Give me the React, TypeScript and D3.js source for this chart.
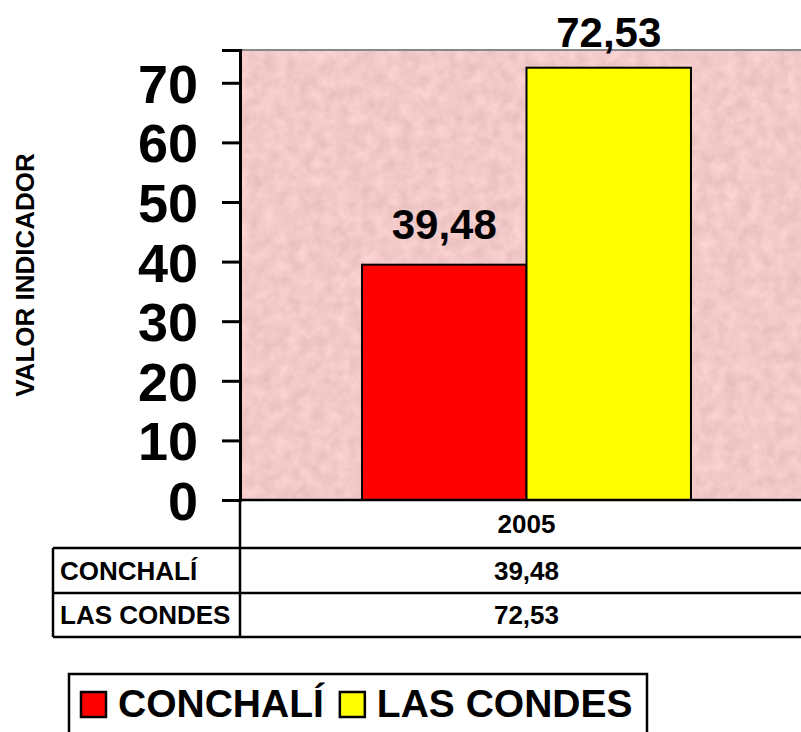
import React, { useEffect, useRef } from "react";
import * as d3 from "d3";

const categories = ["2005"];
const seriesNames = ["CONCHALÍ", "LAS CONDES"];
const seriesColors = ["#ff0000", "#ffff00"];
const seriesValues = [[39.48], [72.53]];
const yTicks = [0, 10, 20, 30, 40, 50, 60, 70];
const yTitle = "VALOR INDICADOR";

const fmt = (v: number) => v.toFixed(2).replace(".", ",");

const App: React.FC = () => {
  const svgRef = useRef<SVGSVGElement | null>(null);

  useEffect(() => {
    if (!svgRef.current) return;
    const svg = d3.select(svgRef.current);
    svg.selectAll("*").remove();

    const width = 801;
    const height = 732;
    const font = "'Liberation Sans', Arial, sans-serif";

    const left = 240;
    const top = 50;
    const bottom = 500;
    const plotRight = 813;

    svg.attr("width", width).attr("height", height);

    // mottled pink background
    const defs = svg.append("defs");
    const filter = defs
      .append("filter")
      .attr("id", "paper")
      .attr("x", 0)
      .attr("y", 0)
      .attr("width", 1)
      .attr("height", 1)
      .attr("color-interpolation-filters", "sRGB");
    filter
      .append("feTurbulence")
      .attr("type", "fractalNoise")
      .attr("baseFrequency", 0.08)
      .attr("numOctaves", 3)
      .attr("seed", 4);
    filter
      .append("feColorMatrix")
      .attr("type", "matrix")
      .attr(
        "values",
        "0.12 0 0 0 0.89  0.12 0 0 0 0.73  0.12 0 0 0 0.73  0 0 0 0 1"
      );

    const y = d3.scaleLinear().domain([0, 75.5]).range([bottom, top]);
    const x0 = d3
      .scaleBand<string>()
      .domain(categories)
      .range([left, plotRight])
      .paddingInner(0)
      .paddingOuter(0.371);
    const x1 = d3
      .scaleBand<string>()
      .domain(seriesNames)
      .range([0, x0.bandwidth()]);

    svg
      .append("rect")
      .attr("x", left)
      .attr("y", top)
      .attr("width", width - left)
      .attr("height", bottom - top)
      .attr("fill", "#e8bfbf")
      .attr("filter", "url(#paper)");

    svg
      .append("line")
      .attr("x1", left)
      .attr("x2", width)
      .attr("y1", top)
      .attr("y2", top)
      .attr("stroke", "#888")
      .attr("stroke-width", 2);

    // bars
    seriesNames.forEach((name, si) => {
      categories.forEach((cat, ci) => {
        const v = seriesValues[si][ci];
        const bx = (x0(cat) || 0) + (x1(name) || 0);
        svg
          .append("rect")
          .attr("x", bx)
          .attr("y", y(v))
          .attr("width", x1.bandwidth())
          .attr("height", y(0) - y(v))
          .attr("fill", seriesColors[si])
          .attr("stroke", "#000")
          .attr("stroke-width", 2);
        svg
          .append("text")
          .attr("x", bx + x1.bandwidth() / 2)
          .attr("y", Math.max(y(v) - 26, 47))
          .attr("text-anchor", "middle")
          .attr("font-family", font)
          .attr("font-weight", "bold")
          .attr("font-size", 42)
          .text(fmt(v));
      });
    });

    // y axis
    const axis = svg
      .append("g")
      .attr("transform", `translate(${left},0)`)
      .call(
        d3
          .axisLeft(y)
          .tickValues(yTicks)
          .tickSize(18)
          .tickPadding(24)
          .tickFormat((d) => String(d))
      );
    axis.select(".domain").attr("stroke", "#000").attr("stroke-width", 3);
    axis.selectAll(".tick line").attr("stroke", "#000").attr("stroke-width", 3);
    axis
      .selectAll(".tick text")
      .attr("fill", "#000")
      .attr("font-family", font)
      .attr("font-weight", "bold")
      .attr("font-size", 54)
      .attr("dy", "0.36em");

    svg
      .append("text")
      .attr("transform", `translate(34,275) rotate(-90)`)
      .attr("text-anchor", "middle")
      .attr("font-family", font)
      .attr("font-weight", "bold")
      .attr("font-size", 26)
      .text(yTitle);

    // data table
    const tableLeft = 53;
    const rowLines = [500, 548, 593, 637];
    const lines = svg.append("g").attr("stroke", "#000").attr("stroke-width", 2.5);
    lines
      .append("line")
      .attr("x1", left)
      .attr("x2", width)
      .attr("y1", bottom)
      .attr("y2", bottom);
    rowLines.slice(1).forEach((ly) => {
      lines
        .append("line")
        .attr("x1", tableLeft)
        .attr("x2", width)
        .attr("y1", ly)
        .attr("y2", ly);
    });
    lines
      .append("line")
      .attr("x1", left)
      .attr("x2", left)
      .attr("y1", bottom)
      .attr("y2", rowLines[3]);
    lines
      .append("line")
      .attr("x1", tableLeft)
      .attr("x2", tableLeft)
      .attr("y1", rowLines[1])
      .attr("y2", rowLines[3]);

    const cellText = (tx: number, ty: number, t: string, anchor: string) =>
      svg
        .append("text")
        .attr("x", tx)
        .attr("y", ty)
        .attr("text-anchor", anchor)
        .attr("font-family", font)
        .attr("font-weight", "bold")
        .attr("font-size", 26)
        .text(t);

    categories.forEach((cat) => {
      const cx = (x0(cat) || 0) + x0.bandwidth() / 2;
      cellText(cx, 533, cat, "middle");
      seriesNames.forEach((name, si) => {
        const ry = rowLines[si + 1];
        const rh = rowLines[si + 2] - ry;
        cellText(cx, ry + rh / 2 + 9, fmt(seriesValues[si][0]), "middle");
      });
    });
    seriesNames.forEach((name, si) => {
      const ry = rowLines[si + 1];
      const rh = rowLines[si + 2] - ry;
      cellText(tableLeft + 7, ry + rh / 2 + 9, name, "start");
    });

    // legend
    const legend = svg.append("g");
    legend
      .append("rect")
      .attr("x", 69)
      .attr("y", 674)
      .attr("width", 647 - 69)
      .attr("height", 80)
      .attr("fill", "#fff")
      .attr("stroke", "#000")
      .attr("stroke-width", 2.5);
    let lx = 81;
    seriesNames.forEach((name, si) => {
      legend
        .append("rect")
        .attr("x", lx)
        .attr("y", 692)
        .attr("width", 25)
        .attr("height", 25)
        .attr("fill", seriesColors[si])
        .attr("stroke", "#000")
        .attr("stroke-width", 2.5);
      const t = legend
        .append("text")
        .attr("x", lx + 37)
        .attr("y", 717)
        .attr("font-family", font)
        .attr("font-weight", "bold")
        .attr("font-size", 39)
        .text(name);
      const w = (t.node() as SVGTextElement).getComputedTextLength();
      lx += 37 + w + 16;
    });
  }, []);

  return (
    <svg
      ref={svgRef}
      style={{ position: "absolute", left: 0, top: 0, background: "#fff" }}
    ></svg>
  );
};

export default App;
